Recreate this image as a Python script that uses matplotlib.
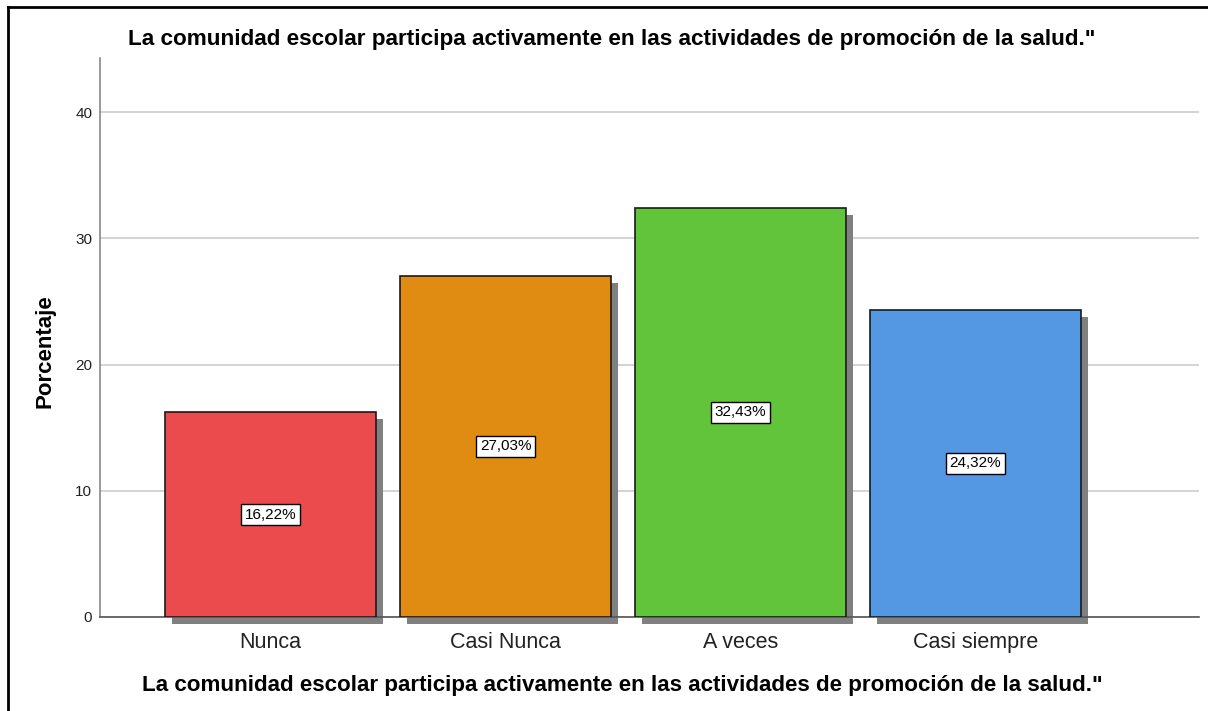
import matplotlib
matplotlib.use("Agg")
import matplotlib.pyplot as plt
from matplotlib import transforms
from matplotlib.lines import Line2D

categories = ["Nunca", "Casi Nunca", "A veces", "Casi siempre"]
values = [16.22, 27.03, 32.43, 24.32]
labels = ["16,22%", "27,03%", "32,43%", "24,32%"]
colors = ["#EB4B4C", "#E08B11", "#61C43A", "#5497E3"]
yticks = [0, 10, 20, 30, 40]
title = 'La comunidad escolar participa activamente en las actividades de promoción de la salud."'

plt.rcParams['font.family'] = ['Liberation Sans', 'DejaVu Sans']

W, H = 1208, 711
fig = plt.figure(figsize=(W / 100, H / 100), dpi=100)
ax = fig.add_axes([100 / W, 1 - 617 / H, (1199 - 100) / W, (617 - 58) / H])

x = list(range(len(categories)))
bw = 211 / 235
shadow = transforms.offset_copy(ax.transData, fig=fig, x=7, y=-7, units='dots')
ax.bar(x, values, width=bw, color="#808080", transform=shadow, zorder=2, clip_on=False)
ax.bar(x, values, width=bw, color=colors, edgecolor="#1a1a1a", linewidth=1.2, zorder=3)

for xi, v, lab in zip(x, values, labels):
    ax.text(xi, v / 2, lab, ha='center', va='center', fontsize=11, zorder=5,
            bbox=dict(boxstyle='square,pad=0.22', facecolor='white', edgecolor='black', linewidth=1))

ax.set_xlim(-0.7255, 3.951)
ax.set_ylim(0, 44.28)
ax.set_yticks(yticks)
ax.set_xticks(x)
ax.set_xticklabels(categories, fontsize=15.5, color="#222222")
ax.tick_params(axis='x', length=0, pad=11)
ax.tick_params(axis='y', length=0, pad=5.5, labelsize=11, colors="#222222")
ax.yaxis.grid(True, color="#cccccc", linewidth=1.2, zorder=0)
ax.set_axisbelow(True)
for s in ['top', 'right']:
    ax.spines[s].set_visible(False)
ax.spines['left'].set_color("#888888")
ax.spines['left'].set_linewidth(1.2)
ax.spines['bottom'].set_color("#555555")
ax.spines['bottom'].set_linewidth(1.2)

fig.text(612 / W, 1 - 40 / H, title, ha='center', va='center', fontsize=16.2, fontweight='bold')
fig.text(622 / W, 1 - 685 / H, title, ha='center', va='center', fontsize=16.1, fontweight='bold')
fig.text(45 / W, 1 - 351 / H, "Porcentaje", ha='center', va='center', rotation=90,
         fontsize=16, fontweight='bold')

# outer frame (top and left visible)
fig.add_artist(Line2D([8 / W, 8 / W], [0, 1 - 7 / H], transform=fig.transFigure, color='black', linewidth=2))
fig.add_artist(Line2D([8 / W, 1], [1 - 7 / H, 1 - 7 / H], transform=fig.transFigure, color='black', linewidth=2))

fig.savefig("out.png", dpi=100)
